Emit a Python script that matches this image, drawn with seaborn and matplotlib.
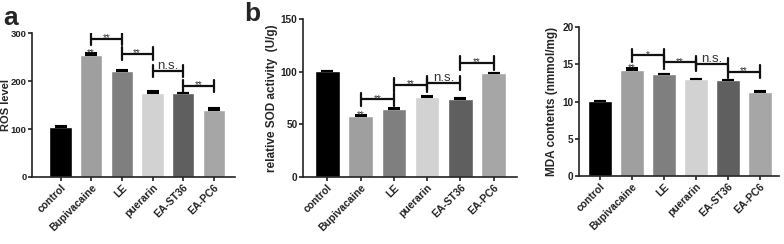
import matplotlib
matplotlib.use("Agg")
import matplotlib.pyplot as plt
import numpy as np
import seaborn as sns

# groups and bar colours
groups = ["control", "Bupivacaine", "LE", "puerarin", "EA-ST36", "EA-PC6"]
bar_colors = ["#000000", "#9f9f9f", "#7f7f7f", "#d2d2d2", "#5f5f5f", "#a6a6a6"]

# panel a: ROS level
ros_mean = [104, 254, 221.5, 174.5, 175, 140]
ros_err = [1.5, 3.5, 1.5, 4.5, 1, 3.5]
ros_brackets = [(1, 2, 288, "**"), (2, 3, 257, "**"), (3, 4, 221, "n.s."), (4, 5, 190, "**")]

# panel b: SOD activity
sod_mean = [100.8, 57.9, 64.6, 76.1, 74.3, 98.4]
sod_err = [0, 0.6, 0.9, 0.8, 0.8, 0.7]
sod_brackets = [(1, 2, 73.7, "**"), (2, 3, 87.3, "**"), (3, 4, 89, "n.s."), (4, 5, 108, "**")]

# panel c: MDA contents
mda_mean = [10.1, 14.25, 13.7, 13.0, 12.85, 11.3]
mda_err = [0.03, 0.2, 0.06, 0.05, 0.05, 0.12]
mda_brackets = [(1, 2, 16.2, "*"), (2, 3, 15.25, "**"), (3, 4, 15.0, "n.s."), (4, 5, 14.0, "**")]

sns.set_style("ticks")
plt.rcParams["font.family"] = ["Liberation Sans", "DejaVu Sans"]
plt.rcParams["font.weight"] = "bold"

fig = plt.figure(figsize=(7.84, 2.44), dpi=100)


def star(ax, x, y, txt):
    # asterisks sit high in the em box, so pull the baseline down a bit
    ax.annotate(txt, xy=(x, y), xytext=(0, -1.6), textcoords="offset points",
                ha="center", va="baseline", fontsize=7, fontweight="normal", color="#333333")


def panel(rect, means, errs, brackets, ymax, yticks, ylabel, xlim, label_x, bw,
          ytick_size=7.2, label_size=8.5):
    ax = fig.add_axes(rect)
    sns.barplot(x=groups, y=means, hue=groups, palette=bar_colors, legend=False,
                width=bw, saturation=1, ax=ax, errorbar=None)
    ax.errorbar(np.arange(len(groups)), means, yerr=[np.zeros(len(errs)), errs],
                fmt="none", ecolor="black", elinewidth=1.2, capsize=4, capthick=1.5)
    ax.set_ylim(0, ymax)
    ax.set_xlim(*xlim)
    ax.set_yticks(yticks)
    sns.despine(ax=ax)
    for s in ["left", "bottom"]:
        ax.spines[s].set_linewidth(1.2)
        ax.spines[s].set_color("#222222")
    ax.tick_params(width=1.2, length=3, pad=1, colors="#222222")
    ax.tick_params(axis="y", labelsize=ytick_size)
    ax.set_xticks(range(len(groups)))
    ax.set_xticklabels(groups, rotation=45, ha="right", rotation_mode="anchor",
                       fontweight="bold", fontsize=7.5)
    for t in ax.get_yticklabels():
        t.set_fontweight("bold")
    ax.set_ylabel(ylabel, fontsize=label_size, fontweight="bold")
    ax.yaxis.set_label_coords(label_x, 0.5)
    # significance brackets
    h = ymax * 0.043
    for i, j, y, txt in brackets:
        ax.plot([i, j], [y, y], color="#111111", lw=1.6)
        ax.plot([i, i], [y - h, y + h], color="#111111", lw=1.6)
        ax.plot([j, j], [y - h, y + h], color="#111111", lw=1.6)
        if txt == "n.s.":
            ax.annotate(txt, xy=((i + j) / 2, y), xytext=(0, 1.6), textcoords="offset points",
                        ha="center", va="baseline", fontsize=9.5, fontweight="normal",
                        color="#333333")
        else:
            star(ax, (i + j) / 2, y, txt)
    # vs control
    star(ax, 1, means[1] + errs[1], "**")
    return ax


panel([0.0408, 0.2746, 0.259, 0.590], ros_mean, ros_err, ros_brackets, 300,
      [0, 100, 200, 300], "ROS level", (-0.93, 5.69), -0.103, 0.72,
      ytick_size=6.8, label_size=8)
panel([0.3865, 0.2746, 0.2729, 0.6475], sod_mean, sod_err, sod_brackets, 150,
      [0, 50, 100, 150], "relative SOD activity  (U/g)", (-0.73, 5.70), -0.117, 0.74)
panel([0.7385, 0.2787, 0.2551, 0.6103], mda_mean, mda_err, mda_brackets, 20,
      [0, 5, 10, 15, 20], "MDA contents (nmmol/mg)", (-0.65, 5.6), -0.105, 0.74)

fig.text(0.004, 0.975, "a", fontsize=19, fontweight="bold", va="top", ha="left")
fig.text(0.311, 0.99, "b", fontsize=19, fontweight="bold", va="top", ha="left")

fig.savefig("out.png", dpi=100)
